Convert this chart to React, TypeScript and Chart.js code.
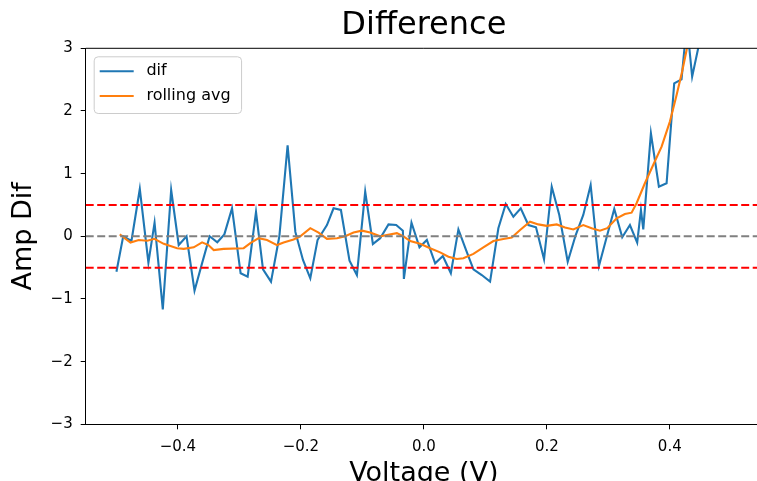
import React, { useEffect, useRef } from 'react';
import { Chart, registerables } from 'chart.js';

Chart.register(...registerables);

// ---- data ----
const difX = [
  -0.5, -0.489, -0.4756, -0.462, -0.448, -0.438, -0.4246, -0.411, -0.3987, -0.386,
  -0.373, -0.361, -0.3484, -0.336, -0.3245, -0.312, -0.298, -0.2866, -0.273, -0.2616,
  -0.2486, -0.235, -0.2216, -0.209, -0.1966, -0.1847, -0.1729, -0.1576, -0.1469, -0.1349,
  -0.1209, -0.1089, -0.0954, -0.0829, -0.071, -0.0575, -0.045, -0.0341, -0.0325, -0.0201,
  -0.0071, 0.0049, 0.0184, 0.0309, 0.0439, 0.0562, 0.0687, 0.0806, 0.0942, 0.1077,
  0.1212, 0.1332, 0.1456, 0.1576, 0.17, 0.1824, 0.1955, 0.208, 0.2203, 0.234,
  0.247, 0.2593, 0.2713, 0.2848, 0.2973, 0.3097, 0.3227, 0.3352, 0.347, 0.3531,
  0.3569, 0.3693, 0.3823, 0.3948, 0.4072, 0.4191, 0.4278, 0.4364, 0.449, 0.461,
  0.474, 0.487, 0.5,
];
const difY = [
  -0.565, 0.0, -0.075, 0.755, -0.42, 0.217, -1.165, 0.739, -0.139, 0.0,
  -0.868, -0.44, 0.0, -0.096, 0.03, 0.447, -0.59, -0.645, 0.39, -0.527,
  -0.724, 0.0, 1.452, 0.07, -0.378, -0.67, -0.06, 0.18, 0.447, 0.42,
  -0.39, -0.618, 0.712, -0.123, -0.03, 0.19, 0.18, 0.09, -0.681, 0.217,
  -0.176, -0.059, -0.431, -0.314, -0.59, 0.11, -0.219, -0.527, -0.618, -0.724,
  0.128, 0.515, 0.313, 0.447, 0.18, 0.143, -0.367, 0.792, 0.34, -0.405,
  0.02, 0.34, 0.818, -0.474, -0.016, 0.436, -0.016, 0.18, -0.1, 0.42,
  0.11, 1.643, 0.792, 0.846, 2.44, 2.505, 3.4, 2.547, 3.13, 3.5,
  3.8, 4.1, 4.3,
];
const rollX = [
  -0.4946, -0.4772, -0.4637, -0.45, -0.4382, -0.4231, -0.4013, -0.3906, -0.3743, -0.3607,
  -0.3504, -0.3418, -0.3256, -0.2931, -0.2822, -0.2687, -0.2551, -0.2388, -0.2281, -0.2119,
  -0.201, -0.1847, -0.1712, -0.1576, -0.1413, -0.1279, -0.1144, -0.1007, -0.0872, -0.071,
  -0.0601, -0.0439, -0.0331, -0.0223, -0.006, 0.0102, 0.0265, 0.04, 0.0536, 0.0643,
  0.0806, 0.0968, 0.1131, 0.1293, 0.143, 0.1565, 0.1727, 0.1862, 0.1998, 0.2161,
  0.2296, 0.2431, 0.2593, 0.2729, 0.2864, 0.2983, 0.3136, 0.327, 0.3379, 0.346,
  0.3595, 0.373, 0.3867, 0.4002, 0.411, 0.4201, 0.4273, 0.44, 0.46,
];
const rollY = [
  0.03, -0.1, -0.06, -0.07, -0.04, -0.12, -0.19, -0.2, -0.176, -0.096,
  -0.14, -0.22, -0.2, -0.19, -0.11, -0.03, -0.06, -0.14, -0.1, -0.05,
  0.0, 0.13, 0.06, -0.04, -0.03, 0.0, 0.06, 0.09, 0.06, 0.0,
  0.02, 0.05, 0.0, -0.075, -0.12, -0.19, -0.256, -0.325, -0.362, -0.35,
  -0.28, -0.176, -0.075, -0.043, -0.02, 0.1, 0.233, 0.19, 0.167, 0.19,
  0.14, 0.11, 0.18, 0.13, 0.09, 0.13, 0.287, 0.356, 0.377, 0.527,
  0.846, 1.138, 1.43, 1.83, 2.25, 2.63, 2.97, 3.7, 4.3,
];
const thresholdLevels = [0.5, -0.5];
const baselineLevel = 0;
const xRange = [-0.55, 0.55];
const yRange = [-3, 3];
const xTickValues = [-0.4, -0.2, 0, 0.2, 0.4];
const xTickLabels = ['\u22120.4', '\u22120.2', '0.0', '0.2', '0.4'];
const yTickValues = [-3, -2, -1, 0, 1, 2, 3];
const yTickLabels = ['\u22123', '\u22122', '\u22121', '0', '1', '2', '3'];
const seriesLabels = ['dif', 'rolling avg'];
const titleText = 'Difference';
const xTitleText = 'Voltage (V)';
const yTitleText = 'Amp Dif';

const FONT = '"DejaVu Sans", sans-serif';

const frameAndLegend = {
  id: 'frameAndLegend',
  afterDatasetsDraw(chart: any) {
    const ctx = chart.ctx;
    const ca = chart.chartArea;
    ctx.save();
    ctx.strokeStyle = '#000';
    ctx.lineWidth = 1;
    ctx.beginPath();
    ctx.moveTo(ca.left, ca.top);
    ctx.lineTo(ca.right, ca.top);
    ctx.lineTo(ca.right, ca.bottom);
    ctx.stroke();
    ctx.restore();
  },
  afterDraw(chart: any) {
    const ctx = chart.ctx;
    const ca = chart.chartArea;
    const items = chart.data.datasets.filter((d: any) => d.inLegend);
    ctx.save();
    ctx.font = '16px ' + FONT;
    const maxW = Math.max(...items.map((d: any) => ctx.measureText(d.label).width));
    const left = ca.left + 8;
    const top = ca.top + 8;
    const w = 52.7 + maxW + 10.5;
    const h = 56.7;
    ctx.beginPath();
    if ((ctx as any).roundRect) (ctx as any).roundRect(left + 0.5, top + 0.5, w, h, 4);
    else ctx.rect(left + 0.5, top + 0.5, w, h);
    ctx.fillStyle = 'rgba(255,255,255,0.8)';
    ctx.fill();
    ctx.strokeStyle = '#cccccc';
    ctx.lineWidth = 1;
    ctx.stroke();
    items.forEach((d: any, i: number) => {
      const y = top + 15 + i * 24.7;
      ctx.beginPath();
      ctx.moveTo(left + 6, y);
      ctx.lineTo(left + 40, y);
      ctx.strokeStyle = d.borderColor;
      ctx.lineWidth = 2;
      ctx.stroke();
      ctx.fillStyle = '#000';
      ctx.textBaseline = 'middle';
      ctx.textAlign = 'left';
      ctx.fillText(d.label, left + 52.7, y);
    });
    ctx.restore();
  },
};

export default function App() {
  const ref = useRef<HTMLCanvasElement>(null);
  useEffect(() => {
    if (!ref.current) return;
    const hline = (level: number, color: string) => ({
      data: [{ x: xRange[0], y: level }, { x: xRange[1], y: level }],
      borderColor: color,
      borderWidth: 2,
      borderDash: [8, 3.5],
      pointRadius: 0,
      clip: 0,
      order: 1,
    });
    const chart = new Chart(ref.current, {
      type: 'line',
      data: {
        datasets: [
          {
            label: seriesLabels[0],
            inLegend: true,
            data: difX.map((x, i) => ({ x, y: difY[i] })),
            borderColor: '#1f77b4',
            borderWidth: 2.1,
            pointRadius: 0,
            tension: 0,
            clip: 0,
            order: 4,
          } as any,
          {
            label: seriesLabels[1],
            inLegend: true,
            data: rollX.map((x, i) => ({ x, y: rollY[i] })),
            borderColor: '#ff7f0e',
            borderWidth: 2.1,
            pointRadius: 0,
            tension: 0,
            clip: 0,
            order: 3,
          } as any,
          ...thresholdLevels.map((l) => hline(l, '#ff0000')),
          hline(baselineLevel, '#808080'),
        ],
      },
      options: {
        animation: false,
        responsive: false,
        events: [],
        layout: { padding: { left: 0, right: 28, top: 0, bottom: 0 } },
        plugins: {
          legend: { display: false },
          tooltip: { enabled: false },
          title: {
            display: true,
            text: titleText,
            fullSize: false,
            color: '#000',
            font: { family: FONT, size: 32, weight: 'normal' },
            padding: { top: 6.2, bottom: 3.7 },
          },
        },
        scales: {
          x: {
            type: 'linear',
            min: xRange[0],
            max: xRange[1],
            afterFit: (s: any) => { s.height = 75.7; },
            afterBuildTicks: (s: any) => { s.ticks = xTickValues.map((v) => ({ value: v })); },
            ticks: {
              color: '#000',
              font: { family: FONT, size: 15 },
              padding: 8.5,
              maxRotation: 0,
              autoSkip: false,
              callback: (v: any) => {
                const i = xTickValues.findIndex((t) => Math.abs(t - v) < 1e-9);
                return i >= 0 ? xTickLabels[i] : '';
              },
            },
            grid: { drawOnChartArea: false, drawTicks: true, tickLength: 5, color: '#000', lineWidth: 1 },
            border: { display: true, color: '#000', width: 1 },
            title: {
              display: true,
              text: xTitleText,
              color: '#000',
              font: { family: FONT, size: 27 },
              padding: { top: 0, bottom: 9.6 },
            },
          },
          y: {
            type: 'linear',
            min: yRange[0],
            max: yRange[1],
            afterFit: (s: any) => { s.width = 85.7; },
            afterBuildTicks: (s: any) => { s.ticks = yTickValues.map((v) => ({ value: v })); },
            ticks: {
              color: '#000',
              font: { family: FONT, size: 15 },
              padding: 8,
              autoSkip: false,
              callback: (v: any) => {
                const i = yTickValues.findIndex((t) => Math.abs(t - v) < 1e-9);
                return i >= 0 ? yTickLabels[i] : '';
              },
            },
            grid: { drawOnChartArea: false, drawTicks: true, tickLength: 5, color: '#000', lineWidth: 1 },
            border: { display: true, color: '#000', width: 1 },
            title: {
              display: true,
              text: yTitleText,
              color: '#000',
              font: { family: FONT, size: 27 },
              padding: { top: 8, bottom: 0 },
            },
          },
        },
      } as any,
      plugins: [frameAndLegend],
    });
    return () => chart.destroy();
  }, []);

  return (
    <div style={{ position: 'fixed', left: 0, top: 0, width: 757, height: 481, overflow: 'hidden', background: '#fff' }}>
      <canvas ref={ref} width={790} height={500} style={{ display: 'block', width: 790, height: 500 }} />
    </div>
  );
}
